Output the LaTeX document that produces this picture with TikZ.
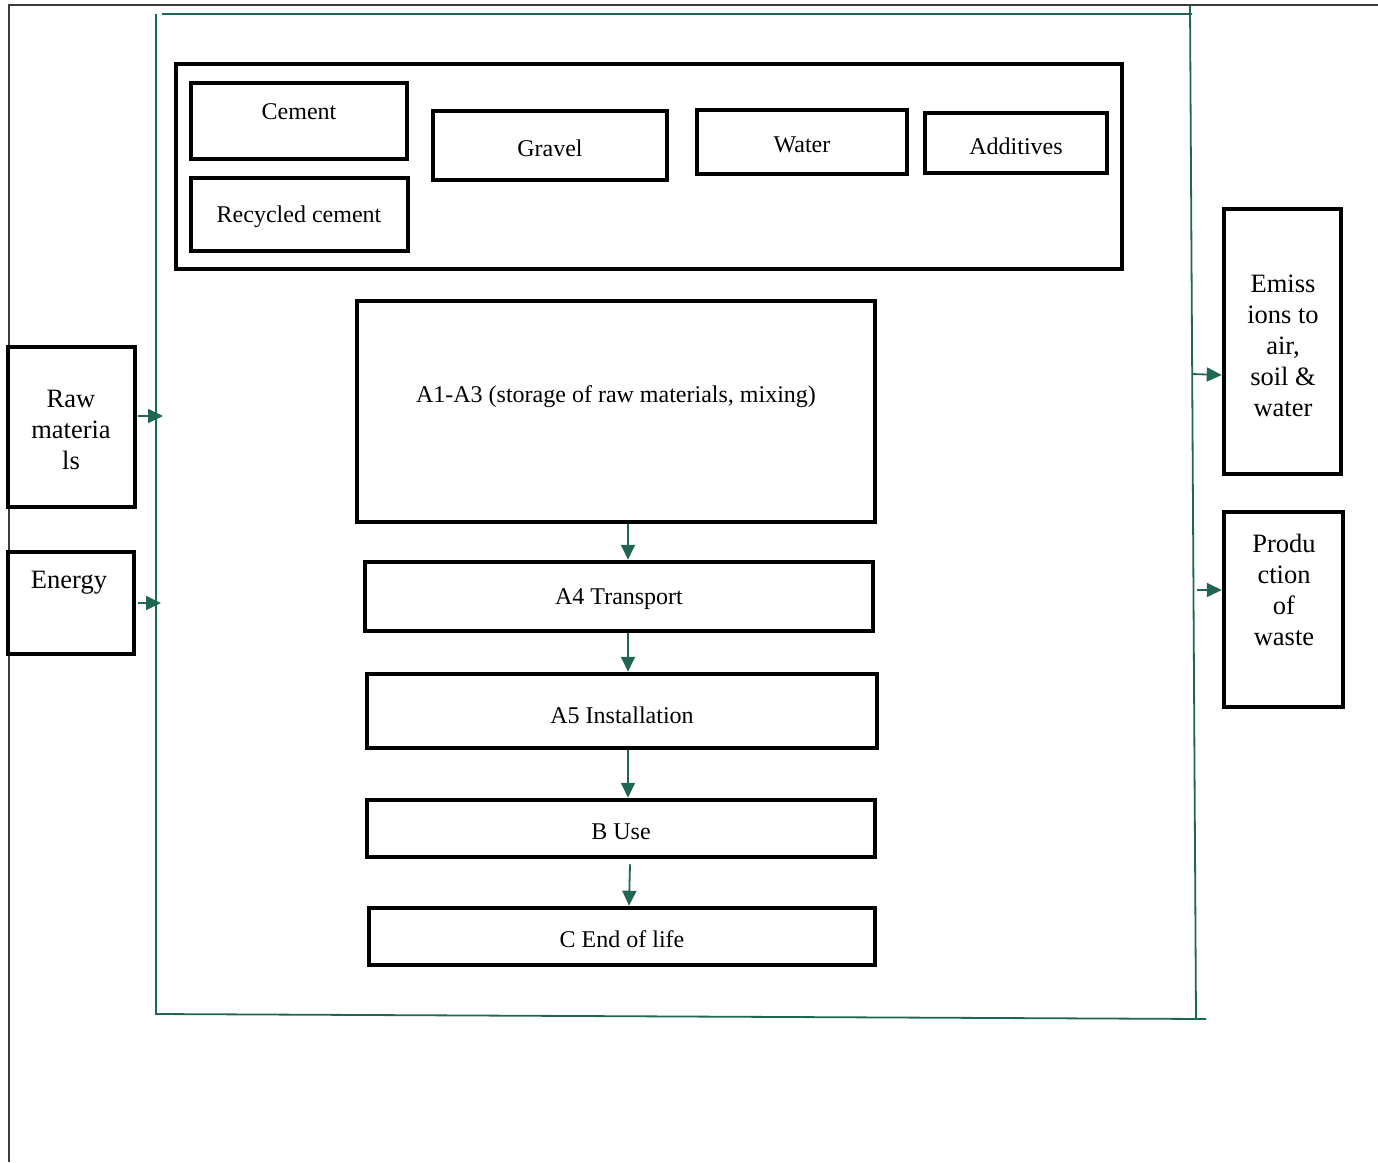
\documentclass[tikz,border=0pt]{standalone}
\usepackage{fontspec}
\setmainfont{Liberation Serif}
\usetikzlibrary{arrows.meta}
\definecolor{frameg}{RGB}{31,102,84}
\definecolor{pageline}{RGB}{60,60,60}
\tikzset{
  box/.style={draw=black, line width=4.5pt, inner sep=0pt},
  lbl/.style={inner sep=0pt, font=\fontsize{24}{29}\selectfont, align=center},
  side/.style={inner sep=0pt, font=\fontsize{26.5}{31}\selectfont, align=center},
  gline/.style={draw=frameg, line width=1.8pt},
  flow/.style={draw=frameg, line width=1.8pt, -{Triangle[length=15pt,width=14pt]}},
}
\newcommand{\bx}[5]{\node[box, minimum width={#4-#2}, minimum height={#5-#3}] (#1) at ({(#2+#4)/2},{(#3+#5)/2}) {};}
\begin{document}
\begin{tikzpicture}[x=1pt,y=-1pt]
\useasboundingbox (0,0) rectangle (1378,1162);
% page lines
\draw[pageline, line width=1.5pt] (9,1162) -- (9,5) -- (1378,5);
% green frame
\coordinate (f1) at (156,14);
\coordinate (f2) at (156,1015);
\coordinate (f3) at (162,14);
\coordinate (f4) at (1192,14);
\coordinate (f5) at (1190,6);
\coordinate (f6) at (1196,1019);
\coordinate (f7) at (156,1014);
\coordinate (f8) at (1206,1019);
\draw[gline] (f1) -- (f2);
\draw[gline] (f3) -- (f4);
\draw[gline] (f5) -- (f6);
\draw[gline] (f7) -- (f8);
% top container
\bx{inputs}{176}{64}{1122}{269}
\bx{cement}{191}{83}{407}{159}
\bx{recyc}{191}{178}{408}{251}
\bx{gravel}{433}{111}{667}{180}
\bx{water}{697}{110}{907}{174}
\bx{addit}{925}{113}{1107}{173}
\node[lbl] (tcement) at (299,112) {Cement};
\node[lbl] (trecyc) at (299,217) {Recycled cement};
\node[lbl] (tgravel) at (550,148) {Gravel};
\node[lbl] (twater) at (802,145) {Water};
\node[lbl] (taddit) at (1016,146) {Additives};
% stages
\bx{a13}{357}{301}{875}{522}
\bx{a4}{365}{562}{873}{631}
\bx{a5}{367}{674}{877}{748}
\bx{buse}{367}{800}{875}{857}
\bx{cend}{369}{908}{875}{965}
\node[lbl] (ta13) at (616,397) {A1-A3 (storage of raw materials, mixing)};
\node[lbl] (ta4) at (619,599) {A4 Transport};
\node[lbl] (ta5) at (622,715) {A5 Installation};
\node[lbl] (tbuse) at (621,832) {B Use};
\node[lbl] (tcend) at (622,939) {C End of life};
% side boxes
\bx{raw}{8}{347}{135}{507}
\bx{energy}{8}{552}{134}{654}
\bx{emis}{1224}{209}{1341}{474}
\bx{prod}{1224}{512}{1343}{707}
\node[side] (traw) at (71,430) {Raw\\materia\\ls};
\node[side] (tenergy) at (69,583) {Energy};
\node[side] (temis) at (1283,346) {Emiss\\ions to\\air,\\soil \&\\water};
\node[side] (tprod) at (1284,590) {Produ\\ction\\of\\waste};
% flows
\draw[flow] (a13.south -| 628,0) -- (a4.north -| 628,0);
\draw[flow] (a4.south -| 628,0) -- (a5.north -| 628,0);
\draw[flow] (a5.south -| 628,0) -- (buse.north -| 628,0);
\draw[flow] ([xshift=9pt,yshift=-5pt]buse.south) -- ([xshift=7pt]cend.north);
\coordinate (rawin) at (163,416);
\coordinate (enin) at (161,603);
\draw[flow] (raw.east |- rawin) ++(1,0) -- (rawin);
\draw[flow] (energy.east |- enin) ++(2,0) -- (enin);
\coordinate (emout) at (1192,374);
\coordinate (prout) at (1197,590);
\draw[flow] (emout) -- ([yshift=-1pt]emis.west |- emout);
\draw[flow] (prout) -- (prod.west |- prout);
\end{tikzpicture}
\end{document}
